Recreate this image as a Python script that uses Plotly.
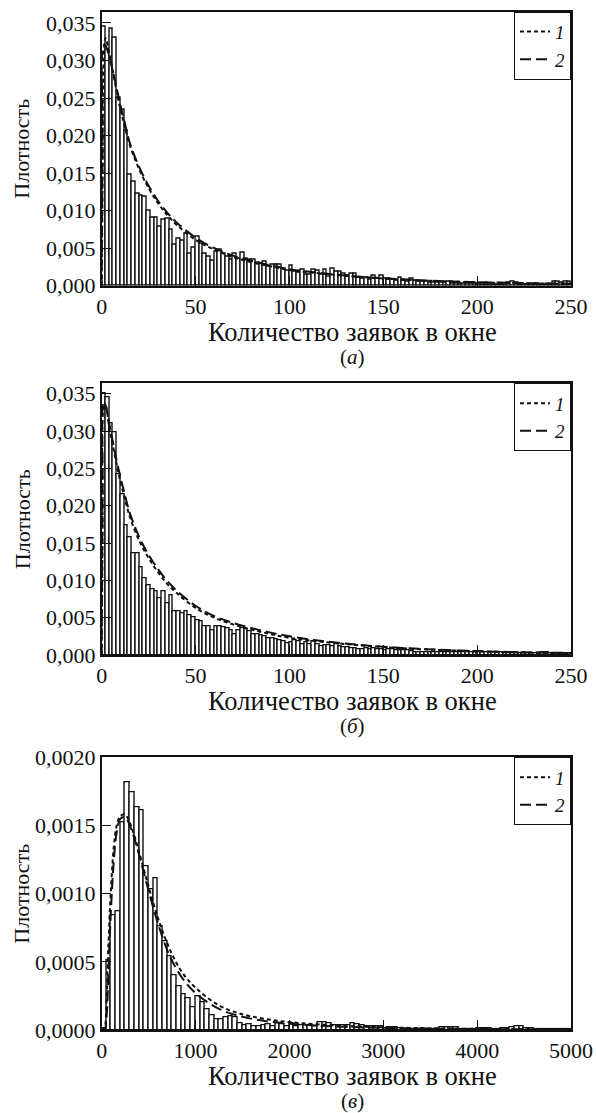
import plotly.graph_objects as go

# ---------------- data ----------------
# panel (а): histogram, bin width 2, bins start at 0
a_bin_width = 2
a_hist = [
    0.0345, 0.0314, 0.0342, 0.0330, 0.0251, 0.0234, 0.0207, 0.0148, 0.0139, 0.0122,
    0.0120, 0.0119, 0.0100, 0.0091, 0.0091, 0.0078, 0.0088, 0.0089, 0.0074, 0.0054,
    0.0062, 0.0060, 0.0069, 0.0043, 0.0051, 0.0065, 0.0056, 0.0043, 0.0039, 0.0033,
    0.0045, 0.0048, 0.0043, 0.0039, 0.0035, 0.0043, 0.0036, 0.0044, 0.0036, 0.0035,
    0.0034, 0.0030, 0.0029, 0.0032, 0.0025, 0.0028, 0.0028, 0.0028, 0.0022, 0.0020,
    0.0027, 0.0019, 0.0017, 0.0021, 0.0015, 0.0014, 0.0021, 0.0020, 0.0014, 0.0021,
    0.0012, 0.0022, 0.0019, 0.0019, 0.0016, 0.0013, 0.0016, 0.0016, 0.0010, 0.0009,
    0.0010, 0.0008, 0.0013, 0.0009, 0.0013, 0.0009, 0.0009, 0.0008, 0.0007, 0.0010,
    0.0007, 0.0005, 0.0009, 0.0007, 0.0005, 0.0005, 0.0005, 0.0004, 0.0004, 0.0004,
    0.0004, 0.0004, 0.0005, 0.0003, 0.0003, 0.0003, 0.0003, 0.0003, 0.0003, 0.0003,
    0.0003, 0.0002, 0.0002, 0.0002, 0.0002, 0.0002, 0.0002, 0.0002, 0.0004, 0.0005,
    0.0004, 0.0002, 0.0002, 0.0002, 0.0002, 0.0002, 0.0002, 0.0002, 0.0002, 0.0002,
    0.0005, 0.0005, 0.0004, 0.0005, 0.0005,
]
a_curve_x = [0, 0.5, 1, 2, 4, 6, 8, 10, 12, 15, 20, 25, 30, 35, 40, 50, 60, 70, 80, 90,
             100, 120, 140, 160, 180, 200, 225, 250]
a_curve1 = [0, 0.015, 0.030, 0.033, 0.031, 0.0285, 0.0258, 0.0235, 0.0215, 0.0187,
            0.0155, 0.0130, 0.0110, 0.0094, 0.0081, 0.0061, 0.0048, 0.0038, 0.0031,
            0.0026, 0.0021, 0.00155, 0.00112, 0.00082, 0.0006, 0.00045, 0.00033, 0.00024]
a_curve2 = [0, 0.020, 0.032, 0.032, 0.0305, 0.0285, 0.0263, 0.0240, 0.0220, 0.0190,
            0.0158, 0.0133, 0.0113, 0.0097, 0.0084, 0.0064, 0.0050, 0.0040, 0.0033,
            0.0027, 0.0022, 0.0016, 0.00115, 0.00085, 0.00062, 0.00047, 0.00035, 0.00026]

# panel (б)
b_bin_width = 2
b_hist = [
    0.0350, 0.0345, 0.0310, 0.0299, 0.0242, 0.0215, 0.0174, 0.0158, 0.0136, 0.0136,
    0.0118, 0.0103, 0.0094, 0.0088, 0.0085, 0.0076, 0.0085, 0.0069, 0.0080, 0.0058,
    0.0058, 0.0056, 0.0059, 0.0053, 0.0051, 0.0047, 0.0045, 0.0039, 0.0039, 0.0033,
    0.0039, 0.0038, 0.0037, 0.0036, 0.0033, 0.0028, 0.0033, 0.0036, 0.0034, 0.0032,
    0.0028, 0.0028, 0.0027, 0.0025, 0.0022, 0.0022, 0.0021, 0.0020, 0.0018, 0.0016,
    0.0017, 0.0020, 0.0018, 0.0015, 0.0017, 0.0014, 0.0018, 0.0014, 0.0011, 0.0013,
    0.0013, 0.0012, 0.0016, 0.0011, 0.0010, 0.0010, 0.0009, 0.0009, 0.0008, 0.0008,
    0.0009, 0.0008, 0.0009, 0.0007, 0.0007, 0.0006, 0.0007, 0.0008, 0.0006, 0.0006,
    0.0006, 0.0006, 0.0005, 0.0004, 0.0003, 0.0003, 0.0004, 0.0004, 0.0004, 0.0003,
    0.0004, 0.0003, 0.0003, 0.0003, 0.0003, 0.0003, 0.0003, 0.0003, 0.0003, 0.0003,
    0.0003, 0.0003, 0.0003, 0.0003, 0.0004, 0.0004, 0.0004, 0.0002, 0.0002, 0.0002,
    0.0002, 0.0002, 0.0002, 0.0002, 0.0002, 0.0002, 0.0002, 0.0004, 0.0004, 0.0002,
    0.0002, 0.0002, 0.0002, 0.0002, 0.0002,
]
b_curve_x = a_curve_x
b_curve1 = [0, 0.018, 0.033, 0.0335, 0.0305, 0.0280, 0.0255, 0.0232, 0.0213, 0.0185,
            0.0153, 0.0130, 0.0111, 0.0095, 0.0083, 0.0063, 0.0050, 0.0041, 0.0034,
            0.0028, 0.0023, 0.0017, 0.00125, 0.0009, 0.00067, 0.0005, 0.00035, 0.00025]
b_curve2 = [0, 0.022, 0.034, 0.0335, 0.0310, 0.0285, 0.0260, 0.0238, 0.0218, 0.0190,
            0.0158, 0.0134, 0.0115, 0.0099, 0.0086, 0.0066, 0.0052, 0.0043, 0.0036,
            0.0030, 0.0025, 0.0018, 0.0013, 0.00095, 0.0007, 0.00052, 0.00037, 0.00027]

# panel (в): bin width 50
c_bin_width = 50
c_hist = [
    0.00001, 0.00051, 0.00084, 0.00087, 0.00152, 0.00182, 0.00174, 0.00163, 0.00161, 0.00120,
    0.00103, 0.00111, 0.00076, 0.00065, 0.00054, 0.00040, 0.00032, 0.00026, 0.00023, 0.00017,
    0.00025, 0.00020, 0.00015, 0.00011, 0.00008, 0.000075, 0.000095, 0.00010, 0.000095, 0.00005,
    0.000035, 0.00004, 0.000025, 0.00003, 0.000035, 0.00004, 0.00003, 0.00005, 0.00004, 0.00003,
    0.00005, 0.000025, 0.000037, 0.000037, 0.000037, 0.00003, 0.000054, 0.000054, 0.00005, 0.000032,
    0.000032, 0.000032, 0.000037, 0.00005, 0.00004, 0.000037, 0.000025, 0.00003, 0.000025, 0.000025,
    0.000012, 0.00002, 0.00002, 0.000012, 0.000007, 0.000007, 0.000007, 0.000007, 0.000007, 0.000007,
    0.000007, 0.000007, 0.000017, 0.000017, 0.000017, 0.000017, 0.000007, 0.000007, 0.000007, 0.000007,
    0.000012, 0.000012, 0.000012, 0.000005, 0.000005, 0.000012, 0.000012, 0.00002, 0.000025, 0.000025,
    0.000012, 0.000012, 0.000005, 0.000005, 0.000005, 0.000005, 0.000005, 0.000005, 0.000005, 0.000005,
]
c_curve_x = [0, 30, 50, 70, 100, 130, 160, 200, 250, 300, 350, 400, 500, 600, 720, 850,
             1000, 1250, 1500, 1750, 2000, 2500, 3000, 3500, 4000, 5000]
c_curve1 = [0, 0.00002, 0.0002, 0.0006, 0.00105, 0.00135, 0.0015, 0.00157, 0.00158, 0.00152,
            0.00142, 0.0013, 0.00105, 0.00082, 0.0006, 0.00043, 0.00031, 0.00018, 0.000115,
            0.00008, 0.000058, 0.000033, 0.00002, 0.000013, 0.000009, 0.000004]
c_curve2 = [0, 0.0, 0.00008, 0.0004, 0.0009, 0.00125, 0.00145, 0.00155, 0.00156, 0.0015,
            0.0014, 0.00128, 0.00102, 0.00078, 0.00055, 0.00039, 0.00027, 0.000155, 0.000097,
            0.000065, 0.000046, 0.000026, 0.000015, 0.00001, 0.000007, 0.000003]

legend_names = ["1", "2"]
panel_letters = ["а", "б", "в"]
x_title = "Количество заявок в окне"
y_title = "Плотность"

# ---------------- layout geometry ----------------
W, H = 596, 1113
FONT = "Liberation Serif, Times New Roman, serif"
INK = "#111111"
x_dom = [101.7 / W, 571.0 / W]
panels_px = [(11.7, 285.7), (383.3, 655.0), (757.3, 1030.0)]   # top, bottom in px


def ydom(top, bot):
    return [1 - bot / H, 1 - top / H]


fig = go.Figure()

panels = [
    (a_hist, a_bin_width, a_curve_x, a_curve1, a_curve2, [0, 250], 50, [0, 0.0365], 0.005, ".3f"),
    (b_hist, b_bin_width, b_curve_x, b_curve1, b_curve2, [0, 250], 50, [0, 0.0364], 0.005, ".3f"),
    (c_hist, c_bin_width, c_curve_x, c_curve1, c_curve2, [0, 5000], 1000, [0, 0.0020], 0.0005, ".4f"),
]

annotations = []
for i, (hist, bw, cx, c1, c2, xr, xd, yr, yd, fmt) in enumerate(panels):
    n = i + 1
    xa = "x" if n == 1 else f"x{n}"
    ya = "y" if n == 1 else f"y{n}"
    leg = "legend" if n == 1 else f"legend{n}"
    centers = [bw * k + bw / 2 for k in range(len(hist))]
    fig.add_trace(go.Bar(x=centers, y=hist, width=bw, xaxis=xa, yaxis=ya,
                         marker=dict(color="white", line=dict(color=INK, width=1.4)),
                         showlegend=False))
    fig.add_trace(go.Scatter(x=cx, y=c1, mode="lines", name=legend_names[0], legend=leg,
                             legendgroup=f"g{n}", xaxis=xa, yaxis=ya,
                             line=dict(color=INK, width=2, dash="4px,3px", shape="spline")))
    fig.add_trace(go.Scatter(x=cx, y=c2, mode="lines", name=legend_names[1], legend=leg,
                             legendgroup=f"g{n}", xaxis=xa, yaxis=ya,
                             line=dict(color=INK, width=2, dash="11px,5px", shape="spline")))

    top, bot = panels_px[i]
    axis_common = dict(showline=True, linecolor=INK, linewidth=1.5, mirror=True,
                       ticks="inside", ticklen=10, tickcolor=INK, tickwidth=1,
                       showgrid=False, zeroline=False, automargin=False,
                       tickfont=dict(family=FONT, size=22, color=INK))
    fig.update_layout(**{
        ("xaxis" if n == 1 else f"xaxis{n}"): dict(domain=x_dom, range=xr, dtick=xd, tick0=0,
                                                   anchor=ya, **axis_common),
        ("yaxis" if n == 1 else f"yaxis{n}"): dict(domain=ydom(top, bot), range=yr, dtick=yd, tick0=0,
                                                   tickformat=fmt, anchor=xa, **axis_common),
        leg: dict(x=x_dom[1], xanchor="right", y=1 - top / H, yanchor="top",
                  bordercolor=INK, borderwidth=1, bgcolor="white",
                  font=dict(family=FONT, size=19, color=INK, style="italic"),
                  itemwidth=30, tracegroupgap=0, traceorder="normal",
                  title=dict(text="")),
    })
    annotations.append(dict(text=y_title, x=22 / W, y=1 - (top + bot) / 2 / H, xref="paper", yref="paper",
                            textangle=-90, showarrow=False, xanchor="center", yanchor="middle",
                            font=dict(family=FONT, size=22, color=INK)))
    annotations.append(dict(text=x_title, x=352 / W, y=1 - (bot + 46) / H, xref="paper", yref="paper",
                            showarrow=False, xanchor="center", yanchor="middle",
                            font=dict(family=FONT, size=26.5, color=INK)))
    annotations.append(dict(text=f"(<i>{panel_letters[i]}</i>)", x=352 / W, y=1 - (bot + 71) / H,
                            xref="paper", yref="paper", showarrow=False, xanchor="center", yanchor="middle",
                            font=dict(family=FONT, size=21, color=INK)))

fig.update_layout(width=W, height=H, margin=dict(l=0, r=0, t=0, b=0),
                  paper_bgcolor="white", plot_bgcolor="white", bargap=0,
                  separators=", ", annotations=annotations)

fig.write_html("out.html")
